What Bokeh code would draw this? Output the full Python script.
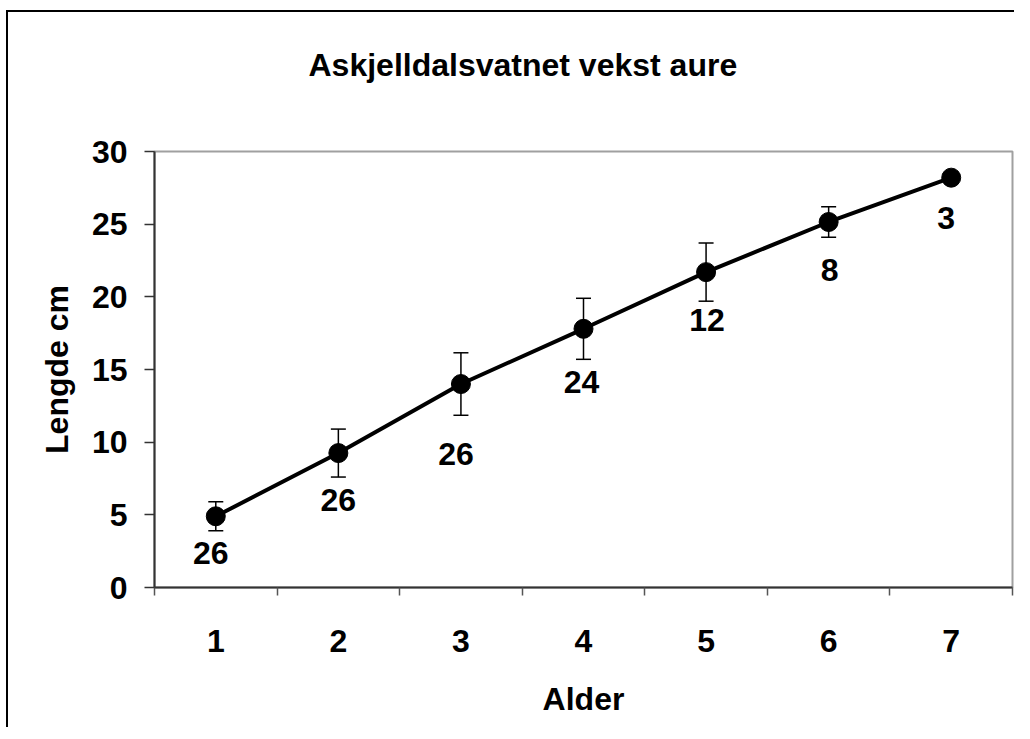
from bokeh.plotting import figure
from bokeh.models import ColumnDataSource, FixedTicker, Whisker, TeeHead, Range1d
from bokeh.embed import file_html
from bokeh.resources import INLINE
from bokeh.core.properties import value

# ---- data ----
age = [1, 2, 3, 4, 5, 6, 7]
length_cm = [4.9, 9.25, 14.0, 17.8, 21.7, 25.15, 28.2]
err = [1.0, 1.65, 2.15, 2.1, 2.0, 1.05, 0.3]
n_fish = ["26", "26", "26", "24", "12", "8", "3"]
y_ticks = [0, 5, 10, 15, 20, 25, 30]
title_text = "Askjelldalsvatnet vekst aure"
x_label = "Alder"
y_label = "Lengde cm"

# label placement (pixels)
lab_dx = [-5, 0, -5, -2, 1, 1, -5]
lab_dy = [37, 47, 70, 53, 48, 48, 40]

FONT = "Liberation Sans"
FS = "32px"

src = ColumnDataSource(dict(
    x=age, y=length_cm,
    lo=[v - e for v, e in zip(length_cm, err)],
    hi=[v + e for v, e in zip(length_cm, err)],
    n=n_fish, dx=lab_dx, dy=lab_dy,
))

p = figure(width=1008, height=753, output_backend="svg", toolbar_location=None,
           x_range=Range1d(0.5, 7.5), y_range=Range1d(0, 30),
           min_border_left=148, min_border_right=2, min_border_top=177,
           min_border_bottom=140)
# outer chart frame (top and left lines) drawn behind the transparent border area
p.styles = {
    "margin-left": "6px", "margin-top": "-26px",
    "background-color": "white",
    "background-image": "linear-gradient(#000, #000), linear-gradient(#000, #000)",
    "background-size": "100% 2px, 2px 100%",
    "background-position": "0px 36px, 0px 36px",
    "background-repeat": "no-repeat",
}
p.background_fill_color = "white"
p.border_fill_alpha = 0
p.outline_line_color = "#a0a0a0"
p.outline_line_width = 2
p.xgrid.visible = False
p.ygrid.visible = False

# title
p.title.text = title_text
p.title.align = "left"
p.title.offset = 154
p.title.standoff = 138
p.title.text_font = FONT
p.title.text_font_style = "bold"
p.title.text_font_size = FS
p.title.text_color = "black"

# y axis
ya = p.yaxis[0]
ya.ticker = FixedTicker(ticks=y_ticks)
ya.axis_line_color = "#333333"
ya.axis_line_width = 2
ya.major_tick_line_color = "#333333"
ya.major_tick_line_width = 1.5
ya.major_tick_out = 10
ya.major_tick_in = 0
ya.minor_tick_line_color = None
ya.major_label_text_font = FONT
ya.major_label_text_font_style = "bold"
ya.major_label_text_font_size = FS
ya.major_label_text_color = "black"
ya.major_label_standoff = 17
ya.axis_label = y_label
ya.axis_label_text_font = FONT
ya.axis_label_text_font_style = "bold"
ya.axis_label_text_font_size = FS
ya.axis_label_text_color = "black"
ya.axis_label_standoff = 14

# x axis: labels at centres, ticks at category boundaries
xa = p.xaxis[0]
xa.ticker = FixedTicker(ticks=age, minor_ticks=[a - 0.5 for a in age] + [age[-1] + 0.5])
xa.axis_line_color = "#333333"
xa.axis_line_width = 2
xa.major_tick_line_color = None
xa.major_tick_out = 0
xa.major_tick_in = 0
xa.minor_tick_line_color = "#555555"
xa.minor_tick_line_width = 1.5
xa.minor_tick_out = 8
xa.minor_tick_in = 0
xa.major_label_text_font = FONT
xa.major_label_text_font_style = "bold"
xa.major_label_text_font_size = FS
xa.major_label_text_color = "black"
xa.major_label_standoff = 34
xa.axis_label = x_label
xa.axis_label_text_font = FONT
xa.axis_label_text_font_style = "bold"
xa.axis_label_text_font_size = FS
xa.axis_label_text_color = "black"
xa.axis_label_standoff = 26

# error bars
wh = Whisker(source=src, base="x", lower="lo", upper="hi",
             line_color="black", line_width=1.5,
             lower_head=TeeHead(size=15, line_color="black", line_width=1.5),
             upper_head=TeeHead(size=15, line_color="black", line_width=1.5))
p.add_layout(wh)

p.line("x", "y", source=src, line_color="black", line_width=4)
p.scatter("x", "y", source=src, size=19, fill_color="black", line_color="black")

p.text("x", "y", text="n", source=src, x_offset="dx", y_offset="dy",
       text_align="center", text_baseline="middle",
       text_font=value(FONT), text_font_style="bold", text_font_size=FS,
       text_color="black")

open("out.html", "w").write(file_html(p, INLINE))
